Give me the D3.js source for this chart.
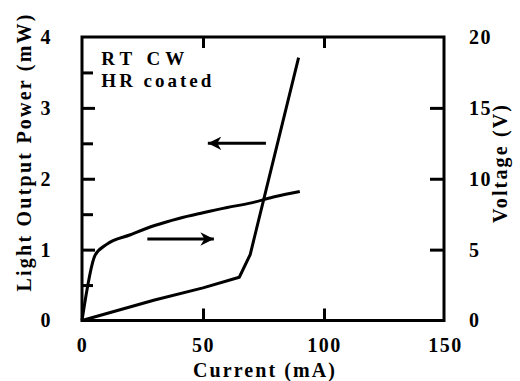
<!DOCTYPE html>
<html>
<head>
<meta charset="utf-8">
<script src="https://cdn.jsdelivr.net/npm/d3@7"></script>
</head>
<body style="margin:0; background:#fff">
<div id="chart"></div>
<script>
// L-I curve (light output power vs current)
const lCurrent = [0, 30, 50, 65, 69.5, 89.5];
const lPower = [0, 0.29, 0.46, 0.61, 0.93, 3.71];

// V-I curve (voltage vs current)
const vCurrent = [0, 5.4, 10, 20, 30, 40, 50, 60, 70, 80, 90];
const vVoltage = [0, 4.6, 5.35, 6.05, 6.7, 7.2, 7.6, 7.97, 8.3, 8.75, 9.1];

const xTicks = [0, 50, 100, 150];
const yLeftTicks = [0, 1, 2, 3, 4];
const yLeftMinor = [0.5, 1.5, 2.5, 3.5];
const yRightTicks = [0, 5, 10, 15, 20];

const FONT = "Liberation Serif";
const width = 520, height = 381;
const margin = {top: 37, right: 76, bottom: 60, left: 82};

const svg = d3.select("#chart").append("svg")
    .attr("width", width)
    .attr("height", height)
    .attr("font-family", FONT)
    .attr("font-weight", "bold");

const x = d3.scaleLinear().domain([0, 150]).range([margin.left, width - margin.right + 1]);
const yL = d3.scaleLinear().domain([0, 4]).range([height - margin.bottom - 0.5, margin.top]);
const yR = d3.scaleLinear().domain([0, 20]).range([height - margin.bottom - 0.5, margin.top]);

// frame
svg.append("rect")
    .attr("x", x(0)).attr("y", yL(4))
    .attr("width", x(150) - x(0) - 1).attr("height", yL(0) - yL(4))
    .attr("fill", "none").attr("stroke", "#000").attr("stroke-width", 3);

// axes (ticks inward, labels outside)
const bottomAxis = d3.axisBottom(x).tickValues(xTicks).tickSize(-12).tickPadding(17).tickFormat(d3.format("d"));
const gB = svg.append("g").attr("transform", `translate(0,${yL(0)})`).call(bottomAxis);

const topAxis = d3.axisTop(x).tickValues([50, 100]).tickSize(-11).tickFormat("");
const gT = svg.append("g").attr("transform", `translate(0,${yL(4)})`).call(topAxis);

const leftAxis = d3.axisLeft(yL).tickValues(yLeftTicks).tickSize(-13).tickPadding(30).tickFormat(d3.format("d"));
const gL = svg.append("g").attr("transform", `translate(${x(0)},0)`).call(leftAxis);

const leftMinor = d3.axisLeft(yL).tickValues(yLeftMinor).tickSize(-11).tickFormat("");
const gLm = svg.append("g").attr("transform", `translate(${x(0)},0)`).call(leftMinor);

const rightAxis = d3.axisRight(yR).tickValues(yRightTicks).tickSize(-14).tickPadding(25).tickFormat(d3.format("d"));
const gR = svg.append("g").attr("transform", `translate(${x(150) - 1},0)`).call(rightAxis);

[gB, gT, gL, gLm, gR].forEach(g => {
    g.attr("font-family", FONT).attr("font-size", 20).attr("font-weight", "bold");
    g.select(".domain").remove();
    g.selectAll(".tick line").attr("stroke", "#000").attr("stroke-width", 3);
    g.selectAll(".tick text")
        .attr("font-family", FONT)
        .attr("letter-spacing", 1.5)
        .attr("fill", "#000");
});
gR.selectAll(".tick line").filter(d => d === 0 || d === 20).remove();
gL.selectAll(".tick line").filter(d => d === 0 || d === 4).remove();
gB.selectAll(".tick line").filter(d => d === 0 || d === 150).remove();

// curves
const lLine = d3.line().x((d, i) => x(lCurrent[i])).y(d => yL(d));
svg.append("path").datum(lPower)
    .attr("d", lLine)
    .attr("fill", "none").attr("stroke", "#000").attr("stroke-width", 3)
    .attr("stroke-linejoin", "round");

const vLine = d3.line().x((d, i) => x(vCurrent[i])).y(d => yR(d)).curve(d3.curveMonotoneX);
svg.append("path").datum(vVoltage)
    .attr("d", vLine)
    .attr("fill", "none").attr("stroke", "#000").attr("stroke-width", 3)
    .attr("stroke-linejoin", "round");

// arrows pointing at each curve's axis
svg.append("defs").append("marker")
    .attr("id", "head")
    .attr("viewBox", "0 0 10 10")
    .attr("refX", 10).attr("refY", 5)
    .attr("markerWidth", 7).attr("markerHeight", 4.5)
    .attr("markerUnits", "strokeWidth")
    .attr("orient", "auto")
    .append("path").attr("d", "M0,0 L10,5 L0,10 L3,5 Z").attr("fill", "#000");

const arrows = [
    {from: [76, 2.5], to: [52, 2.5]},
    {from: [27, 1.15], to: [54.5, 1.15]}
];
svg.selectAll(".arrow").data(arrows).enter().append("line")
    .attr("class", "arrow")
    .attr("x1", d => x(d.from[0])).attr("y1", d => yL(d.from[1]))
    .attr("x2", d => x(d.to[0])).attr("y2", d => yL(d.to[1]))
    .attr("stroke", "#000").attr("stroke-width", 3)
    .attr("marker-end", "url(#head)");

function label(t, size) {
    return t.attr("font-family", FONT).attr("font-weight", "bold")
        .attr("font-size", size).attr("fill", "#000")
        .attr("lengthAdjust", "spacing");
}

// inset labels
label(svg.append("text"), 19).attr("x", x(8)).attr("y", yL(3.6))
    .attr("textLength", 83)
    .text("RT  CW");
label(svg.append("text"), 19).attr("x", x(8)).attr("y", yL(3.3))
    .attr("textLength", 110)
    .text("HR coated");

// axis titles
label(svg.append("text"), 20)
    .attr("x", 264).attr("y", 377)
    .attr("text-anchor", "middle")
    .attr("textLength", 142)
    .text("Current (mA)");

label(svg.append("text"), 20)
    .attr("transform", "translate(31,153) rotate(-90)")
    .attr("text-anchor", "middle")
    .attr("textLength", 277)
    .text("Light Output Power (mW)");

label(svg.append("text"), 20)
    .attr("transform", "translate(507,164) rotate(-90)")
    .attr("text-anchor", "middle")
    .attr("textLength", 118)
    .text("Voltage (V)");
</script>
</body>
</html>
